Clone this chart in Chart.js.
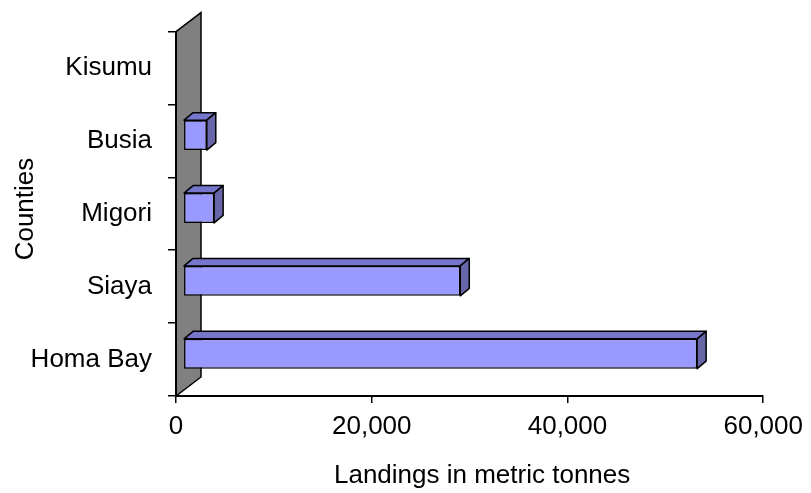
<!DOCTYPE html>
<html>
<head>
<meta charset="utf-8">
<script src="https://cdn.jsdelivr.net/npm/chart.js@4/dist/chart.umd.min.js"></script>
<style>
  html, body { margin: 0; padding: 0; background: #fff; }
  #wrap { width: 811px; height: 493px; }
</style>
</head>
<body>
<div id="wrap"><canvas id="landingsChart" width="811" height="493"></canvas></div>
<script>
// Fish landings by county (metric tonnes)
const counties = ["Kisumu", "Busia", "Migori", "Siaya", "Homa Bay"];
const landings = [0, 2400, 3150, 28300, 52500];
const xTicks = [0, 20000, 40000, 60000];

const FONT = "'Liberation Sans', Arial, sans-serif";

/* --------------------------
   3D LOOK
-------------------------- */
const WALL_DEPTH = { x: 25, y: -19 };   // side wall depth
const BAR_SHIFT = { x: 7.3, y: -5.8 };  // front face of bars sits inside the wall
const BAR_DEPTH = { x: 9, y: -7.5 };

const wallPlugin = {
    id: "wall",
    beforeDraw(chart) {
        const { ctx, chartArea } = chart;
        const x0 = chart.scales.x.getPixelForValue(0);
        ctx.save();
        ctx.beginPath();
        ctx.moveTo(x0, chartArea.top);
        ctx.lineTo(x0 + WALL_DEPTH.x, chartArea.top + WALL_DEPTH.y);
        ctx.lineTo(x0 + WALL_DEPTH.x, chartArea.bottom + WALL_DEPTH.y);
        ctx.lineTo(x0, chartArea.bottom);
        ctx.closePath();
        ctx.fillStyle = "#808080";
        ctx.fill();
        ctx.strokeStyle = "#000";
        ctx.lineWidth = 1.5;
        ctx.stroke();
        ctx.restore();
    }
};

const boxPlugin = {
    id: "boxes",
    beforeDatasetsDraw(chart) {
        chart.ctx.save();
        chart.ctx.translate(BAR_SHIFT.x, BAR_SHIFT.y);
    },
    afterDatasetsDraw(chart) {
        const ctx = chart.ctx;
        const meta = chart.getDatasetMeta(0);
        const dx = BAR_DEPTH.x, dy = BAR_DEPTH.y;

        meta.data.forEach(bar => {
            const p = bar.getProps(["x", "y", "base", "height"], true);
            const left = Math.min(p.base, p.x);
            const right = Math.max(p.base, p.x);
            if (right - left < 1) return;
            const top = p.y - p.height / 2;
            const bottom = p.y + p.height / 2;

            ctx.lineWidth = 1.5;
            ctx.strokeStyle = "#000";
            ctx.lineJoin = "round";

            // top face
            ctx.beginPath();
            ctx.moveTo(left, top);
            ctx.lineTo(left + dx, top + dy);
            ctx.lineTo(right + dx, top + dy);
            ctx.lineTo(right, top);
            ctx.closePath();
            ctx.fillStyle = "#7676CC";
            ctx.fill();
            ctx.stroke();

            // end face
            ctx.beginPath();
            ctx.moveTo(right, top);
            ctx.lineTo(right + dx, top + dy);
            ctx.lineTo(right + dx, bottom + dy);
            ctx.lineTo(right, bottom);
            ctx.closePath();
            ctx.fillStyle = "#6666A8";
            ctx.fill();
            ctx.stroke();
        });

        ctx.restore();
    }
};

/* --------------------------
   AXIS TITLES
-------------------------- */
const titlePlugin = {
    id: "axisTitles",
    afterDraw(chart) {
        const { ctx, chartArea } = chart;
        ctx.save();
        ctx.fillStyle = "#000";
        ctx.font = "26px " + FONT;
        ctx.textAlign = "center";
        ctx.textBaseline = "alphabetic";

        const cx = (chartArea.left + chartArea.right + WALL_DEPTH.x) / 2;
        ctx.fillText("Landings in metric tonnes", cx, chart.height - 10);

        const cy = (chartArea.top + WALL_DEPTH.y / 2 + chartArea.bottom) / 2;
        ctx.translate(33, cy);
        ctx.rotate(-Math.PI / 2);
        ctx.fillText("Counties", 0, 0);
        ctx.restore();
    }
};

/* --------------------------
   CHART
-------------------------- */
new Chart(document.getElementById("landingsChart"), {
    type: "bar",
    data: {
        labels: counties,
        datasets: [{
            data: landings,
            backgroundColor: "#9999FF",
            borderColor: "#000",
            borderWidth: 1.5,
            borderSkipped: false,
            categoryPercentage: 1,
            barPercentage: 0.41,
            clip: false
        }]
    },
    options: {
        indexAxis: "y",
        responsive: false,
        animation: false,
        layout: { padding: { top: 29, right: 45, left: 0, bottom: 0 } },
        plugins: {
            legend: { display: false },
            tooltip: { enabled: false }
        },
        scales: {
            x: {
                min: 0,
                max: 60000,
                afterFit(scale) { scale.height = 97; },
                afterBuildTicks(scale) {
                    scale.ticks = xTicks.map(v => ({ value: v }));
                },
                border: { display: true, color: "#000", width: 2 },
                grid: {
                    drawOnChartArea: false,
                    drawTicks: true,
                    tickLength: 7,
                    color: "#000",
                    lineWidth: 1.5
                },
                ticks: {
                    color: "#000",
                    padding: 8,
                    maxRotation: 0,
                    font: { family: FONT, size: 26 },
                    callback: v => Number(v).toLocaleString("en-US")
                }
            },
            y: {
                afterFit(scale) { scale.width = 176; },
                border: { display: true, color: "#000", width: 2 },
                grid: {
                    offset: true,
                    drawOnChartArea: false,
                    drawTicks: true,
                    tickLength: 8,
                    color: "#000",
                    lineWidth: 1.5
                },
                ticks: {
                    color: "#000",
                    padding: 16,
                    font: { family: FONT, size: 26 }
                }
            }
        }
    },
    plugins: [wallPlugin, boxPlugin, titlePlugin]
});
</script>
</body>
</html>
